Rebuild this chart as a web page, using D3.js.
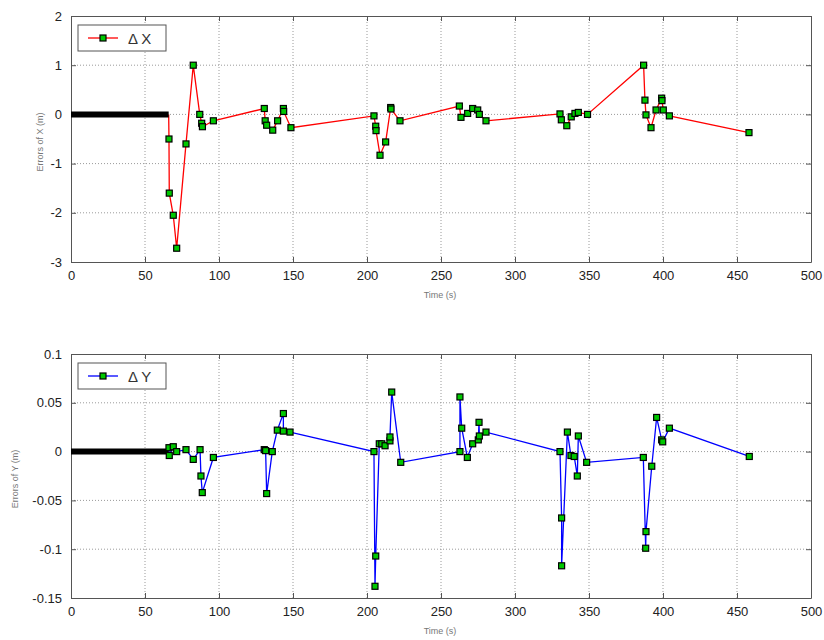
<!DOCTYPE html>
<html lang="en">
<head>
<meta charset="utf-8" />
<style>
  body { margin: 0; background: #fff; }
  svg { display: block; font-family: "Liberation Sans", Arial, sans-serif; }
  .grid line { stroke: #9a9a9a; stroke-width: 1; stroke-dasharray: 1,2; }
  .axis path, .axis line { stroke: #555; }
  .axis text { font-size: 13px; fill: #222; }
  .title { font-size: 9px; fill: #777; }
</style>
</head>
<body>
<svg width="824" height="640"></svg>
<script src="https://d3js.org/d3.v7.min.js"></script>
<script>
// tick values
var timeTicks = [0, 50, 100, 150, 200, 250, 300, 350, 400, 450, 500];
var dxTicks = [-3, -2, -1, 0, 1, 2];
var dyTicks = [-0.15, -0.1, -0.05, 0, 0.05, 0.1];

// initial period where both errors are zero (dense black markers)
var initStart = 0, initEnd = 66;

// delta X series
var xTime = [66, 66.2, 66.4, 69.1, 71.4, 77.7, 82.6, 87, 88.3, 88.8, 96.2,
  130.6, 131.2, 132.2, 136.3, 139.6, 143.5, 143.7, 148.6,
  204.7, 205.9, 206.1, 208.8, 212.6, 216, 216.2, 222.3,
  262.4, 263.5, 268, 271.4, 274.8, 275.9, 280.4,
  330.4, 331.3, 335, 338, 340.5, 342.8, 349,
  386.9, 387.8, 388.5, 391.9, 395.3, 399.1, 399.3, 400.2, 404.3, 458.1];
var xErr = [0, -0.5, -1.6, -2.05, -2.72, -0.6, 1.0, 0.0, -0.18, -0.25, -0.13,
  0.12, -0.13, -0.22, -0.32, -0.13, 0.12, 0.06, -0.27,
  -0.03, -0.24, -0.33, -0.83, -0.56, 0.14, 0.11, -0.13,
  0.17, -0.06, 0.02, 0.12, 0.09, 0.0, -0.13,
  0.01, -0.11, -0.23, -0.05, 0.02, 0.04, 0.0,
  1.0, 0.29, -0.01, -0.27, 0.09, 0.33, 0.28, 0.09, -0.03, -0.37];

// delta Y series
var yTime = [66, 66.2, 66.4, 69.1, 71.4, 77.7, 82.6, 87.2, 87.8, 88.7, 96.2,
  130.6, 131.5, 132.2, 136, 139.4, 143.5, 143.5, 148,
  204.7, 205.4, 205.9, 208.3, 210, 212.2, 215.5, 215.5, 216.7, 222.8,
  262.8, 262.8, 264, 267.8, 271.4, 275.2, 275.7, 275.9, 280.4,
  330.4, 331.5, 331.5, 335.4, 337.8, 340, 342.1, 342.8, 348.4,
  386.7, 388.3, 388.5, 392.4, 395.7, 399.1, 399.8, 404.3, 458.3];
var yErr = [0, 0.004, -0.004, 0.005, 0.0, 0.002, -0.008, 0.002, -0.025, -0.042, -0.006,
  0.002, 0.001, -0.043, 0.0, 0.022, 0.039, 0.021, 0.020,
  0.0, -0.138, -0.107, 0.008, 0.008, 0.006, 0.011, 0.015, 0.061, -0.011,
  0.0, 0.056, 0.024, -0.006, 0.008, 0.012, 0.030, 0.016, 0.020,
  0.0, -0.068, -0.117, 0.020, -0.004, -0.005, -0.025, 0.016, -0.011,
  -0.006, -0.099, -0.082, -0.015, 0.035, 0.012, 0.010, 0.024, -0.005];

var svg = d3.select("svg");

function fmt(d) { return d === 0 ? "0" : String(d); }

function drawPanel(cfg) {
  var x = d3.scaleLinear().domain([0, 500]).range([71, 811]);
  var y = d3.scaleLinear().domain(cfg.domain).range([cfg.bottom, cfg.top]);
  var g = svg.append("g");

  // grid
  var grid = g.append("g").attr("class", "grid");
  grid.selectAll(".gx").data(timeTicks.slice(1, -1)).enter().append("line")
    .attr("x1", x).attr("x2", x).attr("y1", cfg.top).attr("y2", cfg.bottom);
  grid.selectAll(".gy").data(cfg.ticks.slice(1, -1)).enter().append("line")
    .attr("x1", 71).attr("x2", 811).attr("y1", y).attr("y2", y);

  // axes, ticks pointing inwards
  g.append("g").attr("class", "axis")
    .attr("transform", "translate(0," + cfg.bottom + ")")
    .call(d3.axisBottom(x).tickValues(timeTicks).tickSize(-5).tickSizeOuter(0).tickPadding(9).tickFormat(fmt));
  g.append("g").attr("class", "axis")
    .attr("transform", "translate(0," + cfg.top + ")")
    .call(d3.axisTop(x).tickValues(timeTicks).tickSize(-5).tickSizeOuter(0).tickFormat(""));
  g.append("g").attr("class", "axis")
    .attr("transform", "translate(71,0)")
    .call(d3.axisLeft(y).tickValues(cfg.ticks).tickSize(-5).tickSizeOuter(0).tickPadding(9).tickFormat(fmt));
  g.append("g").attr("class", "axis")
    .attr("transform", "translate(811,0)")
    .call(d3.axisRight(y).tickValues(cfg.ticks).tickSize(-5).tickSizeOuter(0).tickFormat(""));

  // series line
  var pts = cfg.t.map(function (t, i) { return [t, cfg.v[i]]; });
  var line = d3.line().x(function (d) { return x(d[0]); }).y(function (d) { return y(d[1]); });
  g.append("path").datum(pts).attr("d", line)
    .attr("fill", "none").attr("stroke", cfg.color).attr("stroke-width", 1.3);

  // initial zero period
  g.append("line")
    .attr("x1", x(initStart)).attr("x2", x(initEnd))
    .attr("y1", y(0)).attr("y2", y(0))
    .attr("stroke", "#000").attr("stroke-width", 6);

  // markers (first point belongs to the black zero period)
  g.selectAll(".mk").data(pts.slice(1)).enter().append("rect")
    .attr("x", function (d) { return x(d[0]) - 3; })
    .attr("y", function (d) { return y(d[1]) - 3; })
    .attr("width", 6).attr("height", 6)
    .attr("fill", "#00c800").attr("stroke", "#000").attr("stroke-width", 1.2);

  // titles
  g.append("text").attr("class", "title")
    .attr("x", 440).attr("y", cfg.bottom + 36)
    .attr("text-anchor", "middle").text("Time (s)");
  g.append("text").attr("class", "title")
    .attr("transform", "translate(" + cfg.labelX + "," + ((cfg.top + cfg.bottom) / 2 + 3) + ") rotate(-90)")
    .attr("text-anchor", "middle").text(cfg.ylabel);

  // legend
  var lg = g.append("g").attr("transform", "translate(78," + (cfg.top + 9) + ")");
  lg.append("rect").attr("width", 88).attr("height", 26)
    .attr("fill", "#fff").attr("stroke", "#555");
  lg.append("line").attr("x1", 10).attr("x2", 40).attr("y1", 13).attr("y2", 13)
    .attr("stroke", cfg.color).attr("stroke-width", 1.3);
  lg.append("rect").attr("x", 22).attr("y", 10).attr("width", 6).attr("height", 6)
    .attr("fill", "#00c800").attr("stroke", "#000").attr("stroke-width", 1.2);
  lg.append("text").attr("x", 50).attr("y", 18.5)
    .attr("font-size", 15).attr("fill", "#333").text(cfg.legend);
}

drawPanel({ domain: [-3, 2], ticks: dxTicks, top: 16, bottom: 262, labelX: 43,
  t: xTime, v: xErr, color: "#ff0000", ylabel: "Errors of X (m)", legend: "\u0394 X" });
drawPanel({ domain: [-0.15, 0.1], ticks: dyTicks, top: 354, bottom: 598, labelX: 18,
  t: yTime, v: yErr, color: "#0000ff", ylabel: "Errors of Y (m)", legend: "\u0394 Y" });
</script>
</body>
</html>
